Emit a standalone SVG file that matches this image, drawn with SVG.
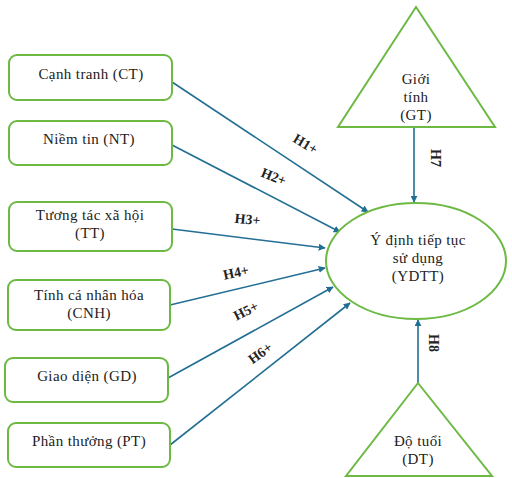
<svg xmlns="http://www.w3.org/2000/svg" width="512" height="478" viewBox="0 0 512 478">
<defs>
<style>
.box{fill:#fff;stroke:#6cb944;stroke-width:2}
.t{font-family:'Liberation Serif','DejaVu Serif',serif;font-size:15px;letter-spacing:0.4px;fill:#222;text-anchor:middle}
.lb{font-family:'Liberation Serif','DejaVu Serif',serif;font-size:14px;font-weight:bold;fill:#222;text-anchor:middle}
.c{stroke:#226e94;stroke-width:1.6;fill:none;marker-end:url(#ah)}
</style>
<marker id="ah" viewBox="0 0 10 10" refX="9" refY="5" markerWidth="7" markerHeight="7" markerUnits="userSpaceOnUse" orient="auto">
<path d="M0,0 L10,5 L0,10 z" fill="#226e94"/>
</marker>
</defs>
<rect width="512" height="478" fill="#fff"/>
<g id="connectors">
<line class="c" x1="172" y1="82" x2="368" y2="212"/>
<line class="c" x1="172" y1="145" x2="340" y2="232"/>
<line class="c" x1="172" y1="229" x2="325" y2="248"/>
<line class="c" x1="170" y1="305" x2="325" y2="268"/>
<line class="c" x1="168" y1="378" x2="333" y2="287"/>
<line class="c" x1="170" y1="445" x2="350" y2="303"/>
<line class="c" x1="414" y1="127" x2="414" y2="202"/>
<line class="c" x1="418" y1="383" x2="418" y2="320"/>
<text class="lb" transform="translate(303,148) rotate(31)">H1+</text>
<text class="lb" transform="translate(272,181) rotate(22)">H2+</text>
<text class="lb" transform="translate(247,224) rotate(6)">H3+</text>
<text class="lb" transform="translate(237,277) rotate(-12)">H4+</text>
<text class="lb" transform="translate(248,315) rotate(-27)">H5+</text>
<text class="lb" transform="translate(263,357) rotate(-36)">H6+</text>
<text class="lb" transform="translate(431,158) rotate(90)">H7</text>
<text class="lb" transform="translate(429,343) rotate(90)">H8</text>
</g>
<g id="ct"><rect class="box" x="9" y="55" width="163" height="45" rx="8"/><text class="t" x="91" y="79">Cạnh tranh (CT)</text></g>
<g id="nt"><rect class="box" x="9" y="121" width="163" height="44" rx="8"/><text class="t" x="89" y="144">Niềm tin (NT)</text></g>
<g id="tt"><rect class="box" x="9" y="202" width="163" height="49" rx="8"/><text class="t" x="90" y="220">Tương tác xã hội</text><text class="t" x="90" y="238">(TT)</text></g>
<g id="cnh"><rect class="box" x="8" y="280" width="162" height="50" rx="8"/><text class="t" x="89" y="300">Tính cá nhân hóa</text><text class="t" x="89" y="318">(CNH)</text></g>
<g id="gd"><rect class="box" x="5" y="358" width="163" height="44" rx="8"/><text class="t" x="87" y="381">Giao diện (GD)</text></g>
<g id="pt"><rect class="box" x="8" y="423" width="162" height="44" rx="8"/><text class="t" x="89" y="446">Phần thưởng (PT)</text></g>
<g id="ydtt"><ellipse cx="416" cy="261" rx="90" ry="58" fill="#fff" stroke="#6cb944" stroke-width="2"/><text class="t" x="418" y="245">Ý định tiếp tục</text><text class="t" x="418" y="263">sử dụng</text><text class="t" x="418" y="281">(YDTT)</text></g>
<g id="gt"><polygon points="416,7 495,127 338,127" fill="#fff" stroke="#6cb944" stroke-width="2"/><text class="t" x="416" y="84">Giới</text><text class="t" x="416" y="102">tính</text><text class="t" x="416" y="120">(GT)</text></g>
<g id="dt"><polygon points="418,383 492,476 346,476" fill="#fff" stroke="#6cb944" stroke-width="2"/><text class="t" x="418" y="446">Độ tuổi</text><text class="t" x="418" y="464">(DT)</text></g>
</svg>
